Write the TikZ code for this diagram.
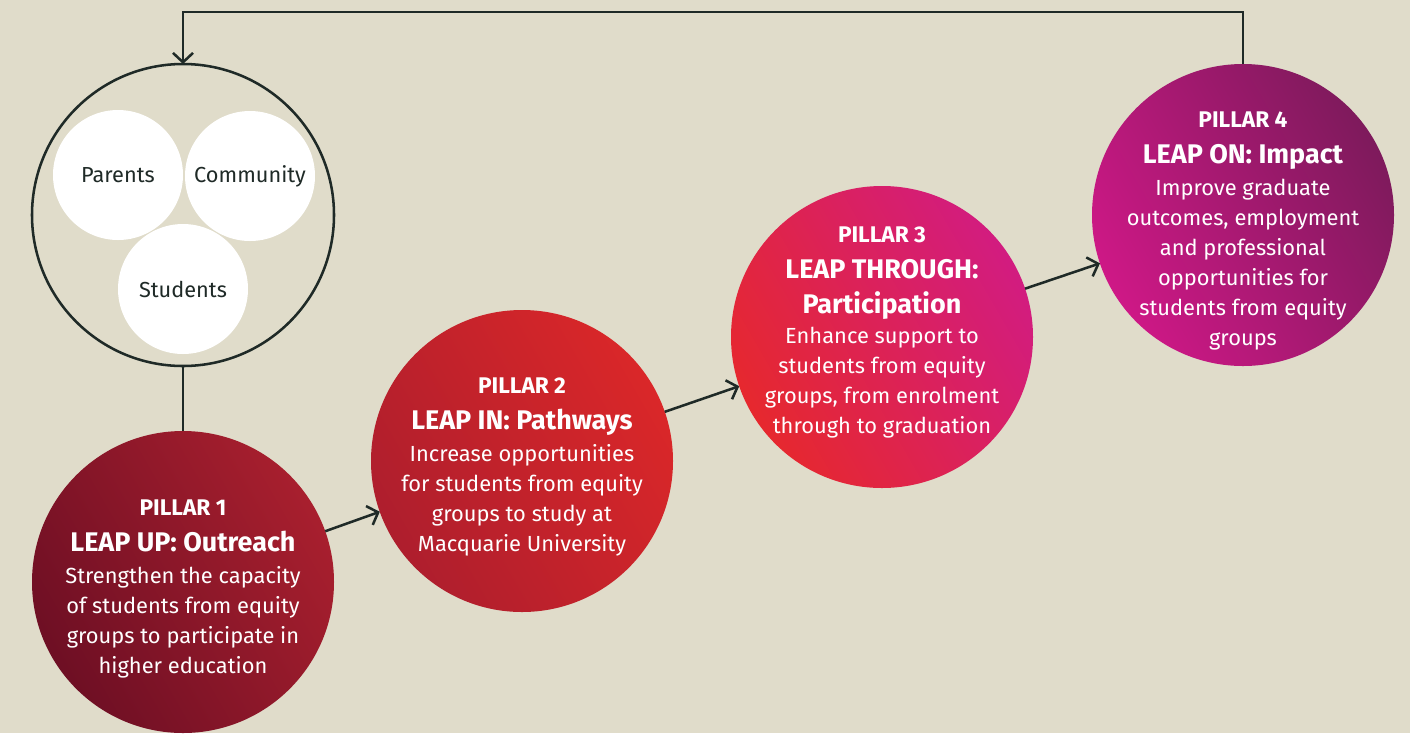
\documentclass[tikz,border=0pt]{standalone}
\usepackage{fontspec}
\setmainfont{Fira Sans}
\usetikzlibrary{arrows.meta}
\definecolor{paper}{HTML}{E0DCCA}
\definecolor{ink}{HTML}{1F2A27}
\definecolor{maroon}{HTML}{6E0F24}
\definecolor{wine}{HTML}{A81F2E}
\definecolor{brick}{HTML}{AE1E2D}
\definecolor{scarlet}{HTML}{DA2729}
\definecolor{flame}{HTML}{E6282E}
\definecolor{rose}{HTML}{D21C80}
\definecolor{orchid}{HTML}{CE1886}
\definecolor{plum}{HTML}{7E1A5C}
\newcommand\pillarno[1]{{\fontsize{17}{17}\selectfont\bfseries #1}}
\newcommand\pillarname[1]{{\fontsize{20.2}{20}\selectfont\bfseries #1}}
\begin{document}
\begin{tikzpicture}[x=0.75pt,y=-0.75pt,
  pillar/.style={circle,minimum size=226.5pt,inner sep=0pt,outer sep=0pt},
  words/.style={anchor=north,inner sep=0pt,text=white,align=center,
    font=\fontsize{16.4}{22.5}\selectfont},
  member/.style={circle,fill=white,minimum size=97.5pt,inner sep=0pt,
    outer sep=0pt,text=ink,font=\fontsize{16.3}{20}\selectfont},
  link/.style={draw=ink,line width=1.9pt},
  arr/.style={link,-{Straight Barb[length=7pt,width=15pt]}}]
\fill[paper] (0,0) rectangle (1410,733);
\useasboundingbox (0,0) rectangle (1410,733);
% who is reached
\node[pillar,link] (group) at (183,215) {};
\node[member] (parents) at (118,175) {Parents};
\node[member] (community) at (250,176) {Community};
\node[member] (students) at (183,289) {Students};
% the four pillars
\node[pillar,top color=wine,bottom color=maroon,shading angle=-60] (p1) at (183,582) {};
\node[pillar,top color=scarlet,bottom color=brick,shading angle=-60] (p2) at (522,461) {};
\node[pillar,top color=rose,bottom color=flame,shading angle=-60] (p3) at (882,337) {};
\node[pillar,top color=plum,bottom color=orchid,shading angle=-60] (p4) at (1243,215) {};
\node[words] (p1text) at (183,500)
  {\pillarno{PILLAR 1}\\[4pt]\pillarname{LEAP UP: Outreach}\\[1.5pt]Strengthen the capacity\\of students from equity\\groups to participate in\\higher education};
\node[words] (p2text) at (522,378)
  {\pillarno{PILLAR 2}\\[4pt]\pillarname{LEAP IN: Pathways}\\[1.5pt]Increase opportunities\\for students from equity\\groups to study at\\Macquarie University};
\node[words] (p3text) at (882,227)
  {\pillarno{PILLAR 3}\\[4pt]\pillarname{LEAP THROUGH:}\\[4pt]\pillarname{Participation}\\Enhance support to\\students from equity\\groups, from enrolment\\through to graduation};
\node[words] (p4text) at (1243,112)
  {\pillarno{PILLAR 4}\\[4pt]\pillarname{LEAP ON: Impact}\\[1.5pt]Improve graduate\\outcomes, employment\\and professional\\opportunities for\\students from equity\\groups};
% connectors
\coordinate (turn) at (183,12);
\draw[link] (group) -- (p1);
\draw[arr] (p1) -- (p2);
\draw[arr] (p2) -- (p3);
\draw[arr] (p3) -- (p4);
\draw[arr] (p4) |- (turn) -- (group);
\end{tikzpicture}
\end{document}
